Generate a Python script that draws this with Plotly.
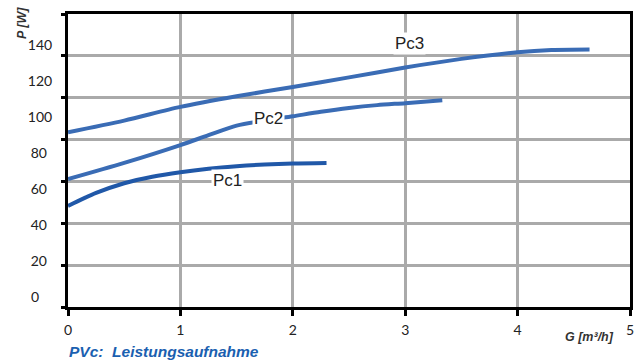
import plotly.graph_objects as go

# ---- data (P in W, G in m³/h) ----
pc1_x = [0, 0.25, 0.5, 0.75, 1.0, 1.25, 1.5, 1.75, 2.0, 2.3]
pc1_y = [50.6, 57.8, 63.2, 66.8, 69.3, 71.2, 72.6, 73.6, 74.2, 74.5]

pc2_x = [0, 0.5, 1.0, 1.25, 1.5, 1.75, 2.0, 2.25, 2.5, 2.75, 3.0, 3.33]
pc2_y = [65.5, 74.5, 84.4, 89.9, 95.2, 98.0, 100.4, 102.9, 105.0, 106.6, 107.7, 109.3]

pc3_x = [0, 0.5, 1.0, 1.5, 2.0, 2.5, 3.0, 3.5, 4.0, 4.3, 4.64]
pc3_y = [91.5, 98.0, 105.6, 111.5, 116.7, 122.0, 127.5, 132.3, 136.0, 137.2, 137.5]

curve_names = ["Pc1", "Pc2", "Pc3"]
curve_label_x = [1.42, 1.78, 3.04]
curve_label_y = [65, 99.4, 141.1]

x_ticks = [0, 1, 2, 3, 4, 5]
y_ticks_3 = [100, 120, 140]
y_ticks_2 = [20, 40, 60, 80]
y_ticks_1 = [0]
grid_y = [0, 20, 40, 60, 80, 100, 120, 140]

# ---- styles ----
DARK = "#2058a8"
MID = "#3a6cb5"
GRID = "#aaaaaa"
TXT = "#222222"
YR = [-5.556, 157.22]
TICKFONT = dict(family="Lato", size=14, color=TXT)

fig = go.Figure()
for xs, ys, col in [(pc1_x, pc1_y, DARK), (pc2_x, pc2_y, MID), (pc3_x, pc3_y, MID)]:
    fig.add_trace(go.Scatter(x=xs, y=ys, mode="lines",
                             line=dict(color=col, width=4, shape="spline", smoothing=0.8),
                             showlegend=False, hoverinfo="skip"))

for name, lx, ly in zip(curve_names, curve_label_x, curve_label_y):
    fig.add_annotation(x=lx, y=ly, xref="x", yref="y", text=name, showarrow=False,
                       font=dict(family="Liberation Sans", size=17, color=TXT),
                       bgcolor="white", borderpad=1)

fig.add_annotation(xref="paper", yref="paper", x=-0.083, y=1.032, xanchor="center",
                   yanchor="top", textangle=-90, showarrow=False,
                   text="<b><i>P [W]</i></b>",
                   font=dict(family="Liberation Sans", size=12.5, color="#333333"))
fig.add_annotation(xref="paper", yref="paper", x=0.8815, y=-0.103, xanchor="left",
                   yanchor="middle", showarrow=False,
                   text="<b><i>G [m³/h]</i></b>",
                   font=dict(family="Liberation Sans", size=12.5, color="#333333"))
fig.add_annotation(xref="paper", yref="paper", x=-0.002, y=-0.151, xanchor="left",
                   yanchor="middle", showarrow=False,
                   text="<b><i>PVc:  Leistungsaufnahme</i></b>",
                   font=dict(family="Liberation Sans", size=15.5, color="#1a60b0"))

fig.update_layout(
    width=644, height=363,
    margin=dict(l=68, r=14, t=14, b=56, autoexpand=False),
    paper_bgcolor="white", plot_bgcolor="white",
    xaxis=dict(range=[0, 5], tickvals=x_ticks, showgrid=True, gridcolor=GRID, gridwidth=3,
               zeroline=False, showline=True, linecolor="black", linewidth=3, mirror=True,
               ticks="outside", ticklen=6, tickwidth=3, tickcolor="black",
               tickfont=TICKFONT, ticklabelstandoff=2, automargin=False),
    yaxis=dict(range=YR, tickvals=y_ticks_3, showgrid=False, zeroline=False,
               showline=True, linecolor="black", linewidth=3, mirror=True,
               ticks="", tickfont=TICKFONT, ticklabelstandoff=10, automargin=False),
    yaxis2=dict(range=YR, overlaying="y", anchor="x", side="left", tickvals=y_ticks_2,
                showgrid=False, zeroline=False, showline=False, ticks="",
                tickfont=TICKFONT, ticklabelstandoff=20, automargin=False),
    yaxis3=dict(range=YR, overlaying="y", anchor="x", side="left", tickvals=y_ticks_1,
                showgrid=False, zeroline=False, showline=False, ticks="",
                tickfont=TICKFONT, ticklabelstandoff=28, automargin=False),
    yaxis4=dict(range=[0, 140], overlaying="y", anchor="x", side="left", tickvals=grid_y,
                showgrid=True, gridcolor=GRID, gridwidth=3, zeroline=False,
                showline=False, showticklabels=False, automargin=False,
                ticks="outside", ticklen=6, tickwidth=3, tickcolor="black"),
)
# dummy traces so overlay axes render
for ax in ["y2", "y3", "y4"]:
    fig.add_trace(go.Scatter(x=[None], y=[None], yaxis=ax, showlegend=False, hoverinfo="skip"))

fig.write_html("out.html", post_script="document.body.style.margin='0';",
               config={"displayModeBar": False})
